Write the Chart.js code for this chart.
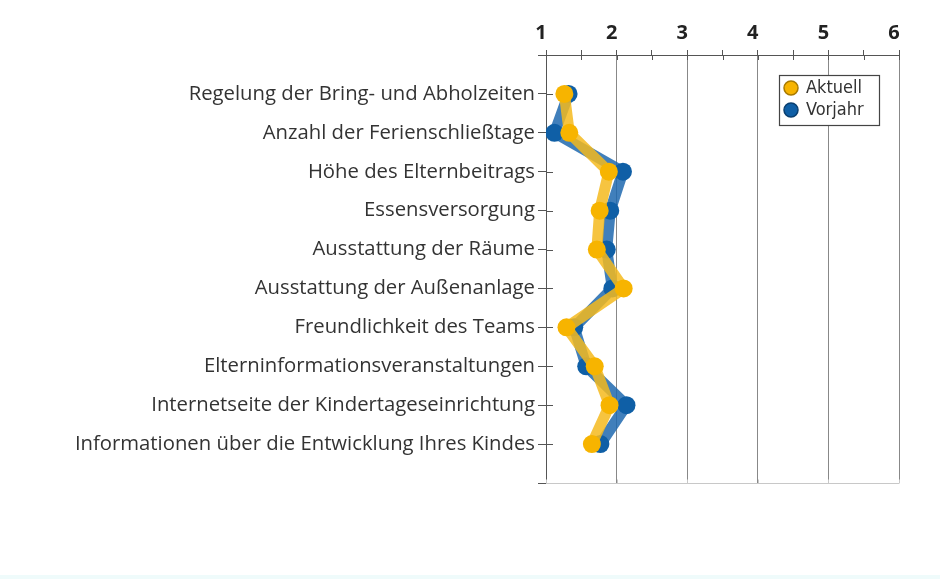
<!DOCTYPE html>
<html>
<head>
<meta charset="utf-8">
<script src="https://cdn.jsdelivr.net/npm/chart.js@4"></script>
<style>
  html, body { margin: 0; padding: 0; background: #fff; }
  #wrap { width: 940px; height: 575px; }
  #strip { width: 940px; height: 4px; background: #effbfb; }
</style>
</head>
<body>
<div id="wrap"><canvas id="surveyChart" width="940" height="575"></canvas></div>
<div id="strip"></div>
<script>
let categories = [
  "Regelung der Bring- und Abholzeiten",
  "Anzahl der Ferienschließtage",
  "Höhe des Elternbeitrags",
  "Essensversorgung",
  "Ausstattung der Räume",
  "Ausstattung der Außenanlage",
  "Freundlichkeit des Teams",
  "Elterninformationsveranstaltungen",
  "Internetseite der Kindertageseinrichtung",
  "Informationen über die Entwicklung Ihres Kindes"
];
let aktuell = [1.26, 1.33, 1.89, 1.76, 1.72, 2.10, 1.29, 1.69, 1.90, 1.65];
let vorjahr = [1.32, 1.12, 2.09, 1.91, 1.86, 1.94, 1.40, 1.57, 2.14, 1.77];
let seriesNames = ["Aktuell", "Vorjahr"];
let xMin = 1, xMax = 6;

let colors = {
  aktuellPoint: "#f7b400",
  aktuellLine: "rgba(244,186,30,0.85)",
  aktuellEdge: "#a87a00",
  vorjahrPoint: "#0f5fa6",
  vorjahrLine: "rgba(30,105,175,0.85)",
  vorjahrEdge: "#0a3f70"
};

function toPoints(values) {
  return values.map((v, i) => ({ x: v, y: i + 1 }));
}

// short tick marks on the inner side of both axes
const crossTicks = {
  id: "crossTicks",
  beforeDatasetsDraw(chart) {
    const ctx = chart.ctx;
    const xs = chart.scales.x, ys = chart.scales.y;
    ctx.save();
    ctx.strokeStyle = "#555";
    ctx.lineWidth = 1;
    ctx.beginPath();
    xs.ticks.forEach(t => {
      const px = Math.round(xs.getPixelForValue(t.value)) + 0.5;
      ctx.moveTo(px, xs.bottom);
      ctx.lineTo(px, xs.bottom + 5);
    });
    ys.ticks.forEach(t => {
      const py = Math.round(ys.getPixelForValue(t.value)) + 0.5;
      ctx.moveTo(ys.right, py);
      ctx.lineTo(ys.right + 7, py);
    });
    ctx.stroke();
    // light bottom edge
    ctx.strokeStyle = "#c8c8c8";
    ctx.beginPath();
    const by = Math.round(chart.chartArea.bottom) + 0.5;
    ctx.moveTo(chart.chartArea.left, by);
    ctx.lineTo(chart.chartArea.right, by);
    xs.ticks.forEach(t => {
      if (Number.isInteger(t.value)) {
        const px = Math.round(xs.getPixelForValue(t.value)) + 0.5;
        ctx.moveTo(px, by);
        ctx.lineTo(px, by - 4);
      }
    });
    ctx.stroke();
    ctx.restore();
  }
};

// boxed legend inside the plot, top right
const boxLegend = {
  id: "boxLegend",
  afterDraw(chart) {
    const ctx = chart.ctx;
    const area = chart.chartArea;
    const x = area.right - 120, y = area.top + 20, w = 100, h = 50;
    ctx.save();
    ctx.fillStyle = "#fff";
    ctx.fillRect(x, y, w, h);
    ctx.strokeStyle = "#444";
    ctx.lineWidth = 1.2;
    ctx.strokeRect(x + 0.5, y + 0.5, w, h);
    ctx.font = '18px "Liberation Sans Narrow", "DejaVu Sans Condensed", sans-serif';
    ctx.textBaseline = "middle";
    chart.data.datasets.forEach((ds, i) => {
      const cy = y + 13 + i * 22;
      ctx.beginPath();
      ctx.arc(x + 12, cy, 7, 0, Math.PI * 2);
      ctx.fillStyle = ds.pointBackgroundColor;
      ctx.fill();
      ctx.lineWidth = 1.5;
      ctx.strokeStyle = ds.edgeColor;
      ctx.stroke();
      ctx.fillStyle = "#333";
      ctx.fillText(ds.label, x + 27, cy);
    });
    ctx.restore();
  }
};

let $chart = document.getElementById("surveyChart").getContext("2d");

let surveyChart = new Chart($chart, {
  type: "scatter",
  data: {
    datasets: [
      {
        label: seriesNames[0],
        data: toPoints(aktuell),
        showLine: true,
        borderColor: colors.aktuellLine,
        borderWidth: 11,
        borderJoinStyle: "round",
        borderCapStyle: "round",
        pointBackgroundColor: colors.aktuellPoint,
        pointBorderColor: colors.aktuellPoint,
        pointRadius: 9,
        pointBorderWidth: 0,
        edgeColor: colors.aktuellEdge
      },
      {
        label: seriesNames[1],
        data: toPoints(vorjahr),
        showLine: true,
        borderColor: colors.vorjahrLine,
        borderWidth: 11,
        borderJoinStyle: "round",
        borderCapStyle: "round",
        pointBackgroundColor: colors.vorjahrPoint,
        pointBorderColor: colors.vorjahrPoint,
        pointRadius: 9,
        pointBorderWidth: 0,
        edgeColor: colors.vorjahrEdge
      }
    ]
  },
  options: {
    responsive: false,
    animation: false,
    layout: { padding: { left: 0, top: 0, right: 41, bottom: 92 } },
    plugins: {
      legend: { display: false },
      tooltip: { enabled: false }
    },
    scales: {
      x: {
        type: "linear",
        position: "top",
        min: xMin,
        max: xMax,
        afterFit(scale) { scale.height = 55; },
        ticks: {
          stepSize: 0.5,
          padding: 5,
          labelOffset: -5,
          color: "#222",
          font: { family: "'Open Sans', sans-serif", size: 20, weight: "bold" },
          callback: v => (Number.isInteger(v) ? v : "")
        },
        grid: {
          color: ctx => (ctx.tick && Number.isInteger(ctx.tick.value) ? "#888" : "transparent"),
          tickColor: "#555",
          tickLength: 5,
          lineWidth: 1
        },
        border: { color: "#555", width: 1 }
      },
      y: {
        type: "linear",
        min: 0,
        max: 11,
        reverse: true,
        afterFit(scale) { scale.width = 546; },
        ticks: {
          stepSize: 1,
          autoSkip: false,
          padding: 3,
          color: "#333",
          font: { family: "'Open Sans', sans-serif", size: 20.3 },
          callback: v => categories[v - 1] || ""
        },
        grid: {
          drawOnChartArea: false,
          tickColor: "#555",
          tickLength: 8
        },
        border: { color: "#555", width: 1 }
      }
    }
  },
  plugins: [crossTicks, boxLegend]
});
</script>
</body>
</html>
